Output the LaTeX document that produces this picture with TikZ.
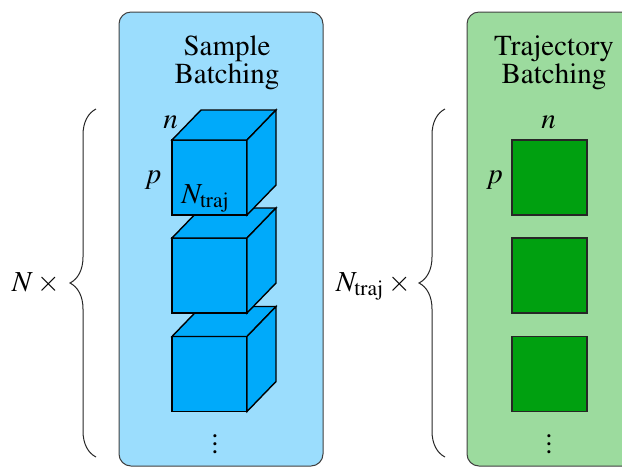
\documentclass[tikz,border=0pt]{standalone}
\usepackage[T1]{fontenc}
\usepackage{mathptmx}
\usetikzlibrary{decorations.pathreplacing}
\definecolor{pSky}{RGB}{155,221,253}
\definecolor{pBlue}{RGB}{0,170,250}
\definecolor{pMint}{RGB}{156,219,158}
\definecolor{pGreen}{RGB}{0,160,16}
\tikzset{
    panel/.style={draw=black!75, line width=0.5pt, rounded corners=6pt},
    face/.style={draw, fill=pBlue, line width=0.7pt},
    front/.style={face, minimum size=37.5pt, inner sep=0pt, outer sep=0pt},
    sq/.style={draw=black!85, fill=pGreen, minimum size=37.5pt, inner sep=0pt, outer sep=0pt, line width=0.7pt},
    lbl/.style={inner sep=0pt},
    title/.style={inner sep=0pt, align=center},
    brc/.style={draw=black!85, line width=0.5pt, decorate, decoration={brace, amplitude=13pt}}
}

\begin{document}
\begin{tikzpicture}[x=0.5pt,y=-0.5pt,font=\fontsize{14.5}{14}\selectfont]
\useasboundingbox (0,0) rectangle (622,468);
% panels
\draw[panel, fill=pSky] (119,12) rectangle (323,466);
\draw[panel, fill=pMint] (467,12) rectangle (690,466);
\node[title] (titS) at (227,63) {Sample\\Batching};
\node[title] (titT) at (554,63) {Trajectory\\Batching};
% sample batching: cubes, bottom one first
\foreach \nm/\yy in {cubeC/374, cubeB/275.5, cubeA/177.5} {
    \node[front] (\nm) at (209.5,\yy) {};
    \draw[face] (\nm.north west) -- ++(29,-30) -- ++(75,0) -- (\nm.north east) -- cycle;
    \draw[face] (\nm.north east) -- ++(29,-30) -- ++(0,75) -- (\nm.south east) -- cycle;
}
\node[lbl, anchor=base] (nS) at (170.5,128) {$n$};
\node[lbl, anchor=base] (pS) at (153,183) {$p$};
\node[lbl, anchor=base west] (ntS) at (181,203) {$N_{\mathrm{traj}}$};
\node[lbl] (dotS) at (215,438) {$\vdots$};
% trajectory batching: squares
\foreach \nm/\yy in {sqA/177.5, sqB/275.5, sqC/374} {
    \node[sq] (\nm) at (549.5,\yy) {};
}
\node[lbl, anchor=base] (nT) at (548.5,128) {$n$};
\node[lbl, anchor=base] (pT) at (494.5,183) {$p$};
\node[lbl] (dotT) at (549,438) {$\vdots$};
% braces
\coordinate (bS1) at (96,457);
\coordinate (bS2) at (96,109);
\draw[brc] (bS1) -- (bS2);
\node[lbl, anchor=base east] (mulS) at (64,291) {$N\times{}$};
\coordinate (bT1) at (445,457);
\coordinate (bT2) at (445,109);
\draw[brc] (bT1) -- (bT2);
\node[lbl, anchor=base east] (mulT) at (415,291) {$N_{\mathrm{traj}}\times{}$};
\end{tikzpicture}
\end{document}
